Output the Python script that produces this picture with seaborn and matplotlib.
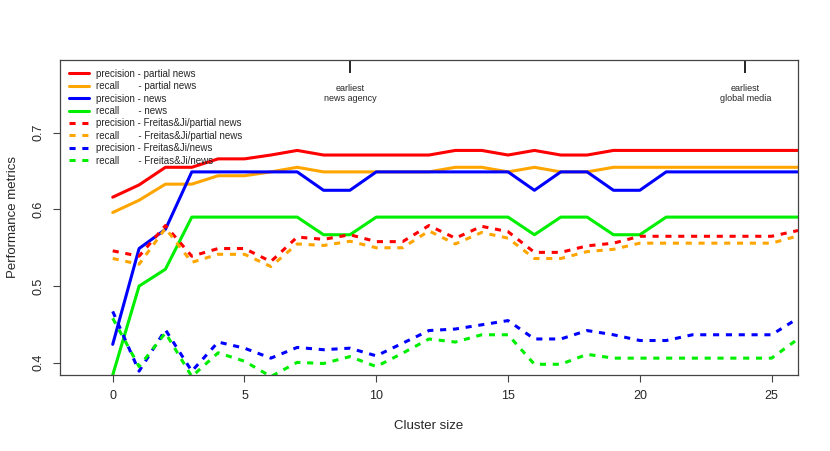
import numpy as np
import pandas as pd
import matplotlib
matplotlib.use("Agg")
import matplotlib.pyplot as plt
import seaborn as sns

# Cluster sizes 0..26
cluster_size = list(range(27))

prec_partial = [0.616, 0.632, 0.655, 0.655, 0.666, 0.666, 0.671, 0.677, 0.671, 0.671,
                0.671, 0.671, 0.671, 0.677, 0.677, 0.671, 0.677, 0.671, 0.671, 0.677,
                0.677, 0.677, 0.677, 0.677, 0.677, 0.677, 0.677]
rec_partial = [0.596, 0.612, 0.633, 0.633, 0.644, 0.644, 0.649, 0.655, 0.649, 0.649,
               0.649, 0.649, 0.649, 0.655, 0.655, 0.649, 0.655, 0.649, 0.649, 0.655,
               0.655, 0.655, 0.655, 0.655, 0.655, 0.655, 0.655]
prec_news = [0.424, 0.549, 0.574, 0.649, 0.649, 0.649, 0.649, 0.649, 0.625, 0.625,
             0.649, 0.649, 0.649, 0.649, 0.649, 0.649, 0.625, 0.649, 0.649, 0.625,
             0.625, 0.649, 0.649, 0.649, 0.649, 0.649, 0.649]
rec_news = [0.384, 0.500, 0.522, 0.590, 0.590, 0.590, 0.590, 0.590, 0.567, 0.567,
            0.590, 0.590, 0.590, 0.590, 0.590, 0.590, 0.567, 0.590, 0.590, 0.567,
            0.567, 0.590, 0.590, 0.590, 0.590, 0.590, 0.590]
prec_fj_partial = [0.546, 0.539, 0.579, 0.539, 0.549, 0.549, 0.532, 0.564, 0.561, 0.567,
                   0.558, 0.558, 0.579, 0.5625, 0.578, 0.571, 0.544, 0.544, 0.5525, 0.556,
                   0.565, 0.565, 0.565, 0.565, 0.565, 0.565, 0.5725]
rec_fj_partial = [0.536, 0.5285, 0.5755, 0.531, 0.5415, 0.5415, 0.5255, 0.555, 0.553, 0.5585,
                  0.550, 0.550, 0.572, 0.555, 0.570, 0.5625, 0.536, 0.536, 0.545, 0.548,
                  0.556, 0.556, 0.556, 0.556, 0.556, 0.556, 0.5655]
prec_fj_news = [0.467, 0.389, 0.443, 0.389, 0.427, 0.419, 0.406, 0.420, 0.417, 0.419,
                0.409, 0.4255, 0.442, 0.444, 0.4495, 0.455, 0.431, 0.431, 0.442, 0.4365,
                0.429, 0.429, 0.4365, 0.4365, 0.4365, 0.4365, 0.458]
rec_fj_news = [0.458, 0.395, 0.439, 0.382, 0.413, 0.402, 0.382, 0.4005, 0.399, 0.408,
               0.395, 0.4125, 0.431, 0.427, 0.4365, 0.4365, 0.398, 0.398, 0.411, 0.406,
               0.406, 0.406, 0.406, 0.406, 0.406, 0.406, 0.431]

labels = [
    "precision - partial news",
    "recall       - partial news",
    "precision - news",
    "recall       - news",
    "precision - Freitas&Ji/partial news",
    "recall       - Freitas&Ji/partial news",
    "precision - Freitas&Ji/news",
    "recall       - Freitas&Ji/news",
]
series = [prec_partial, rec_partial, prec_news, rec_news,
          prec_fj_partial, rec_fj_partial, prec_fj_news, rec_fj_news]
colors = ["#ff0000", "#ffa500", "#0000ff", "#00ee00",
          "#ff0000", "#ffa500", "#0000ff", "#00ee00"]
dotted = (0, (2, 2.2))
styles = ["-", "-", "-", "-", dotted, dotted, dotted, dotted]

events_x = [9, 24]
events_text = ["earliest\nnews agency", "earliest\nglobal media"]

sns.set_style("ticks")
plt.rcParams['font.family'] = ['Liberation Sans', 'DejaVu Sans']

fig = plt.figure(figsize=(8.3, 4.51), dpi=100)
ax = fig.add_axes([0.0723, 0.1685, 0.8891, 0.6985])

for vals, lab, col, ls in zip(series, labels, colors, styles):
    sns.lineplot(x=cluster_size, y=vals, color=col, linestyle=ls, linewidth=2.2,
                 label=lab, ax=ax)

ax.set_xlim(-2, 26)
ax.set_ylim(0.384, 0.795)
ax.set_xticks([0, 5, 10, 15, 20, 25])
ax.set_yticks([0.4, 0.5, 0.6, 0.7])
ax.set_yticklabels(["0.4", "0.5", "0.6", "0.7"], rotation=90, va="center")
ax.tick_params(axis="both", labelsize=9, length=5, width=0.8, color="#444444", pad=6)
for sp in ax.spines.values():
    sp.set_visible(True)
    sp.set_color("#444444")
    sp.set_linewidth(0.9)

ax.set_xlabel("Cluster size", fontsize=9.5, labelpad=13)
ax.set_ylabel("Performance metrics", fontsize=9.5, labelpad=10)

# event markers along the top
top = ax.secondary_xaxis("top")
top.set_xticks(events_x)
top.set_xticklabels([])
top.tick_params(direction="in", length=9, width=1.2, color="black")
for sp in top.spines.values():
    sp.set_visible(False)
for ex, txt in zip(events_x, events_text):
    ax.text(ex, 0.751, txt, ha="center", va="center", fontsize=6.5, linespacing=1.2)

leg = ax.legend(loc="upper left", frameon=False, fontsize=7, handlelength=2.1,
                handletextpad=0.7, labelspacing=0.25, borderaxespad=0.6,
                borderpad=0.3)

fig.savefig("out.png", dpi=100)
